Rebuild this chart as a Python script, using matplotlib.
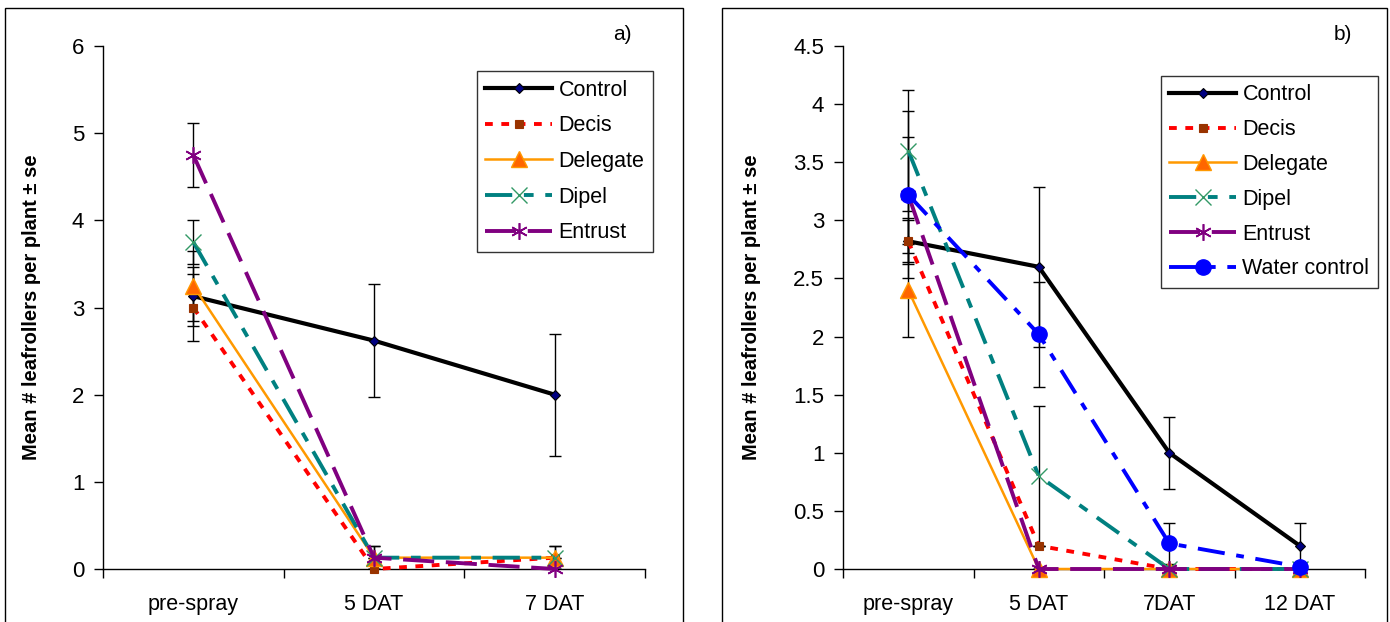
import matplotlib
matplotlib.use("Agg")
import matplotlib.pyplot as plt
from matplotlib.patches import Rectangle
import numpy as np

plt.rcParams['font.family'] = ['Liberation Sans', 'DejaVu Sans']

# ---------------- data ----------------
cats_a = ['pre-spray', '5 DAT', '7 DAT']
a_control = [3.13, 2.62, 2.0]
a_control_se = [0.34, 0.65, 0.70]
a_decis = [3.0, 0.0, 0.13]
a_decis_se = [0.38, 0.0, 0.0]
a_delegate = [3.25, 0.13, 0.13]
a_delegate_se = [0.40, 0.13, 0.13]
a_dipel = [3.75, 0.13, 0.13]
a_dipel_se = [0.25, 0.13, 0.13]
a_entrust = [4.75, 0.13, 0.0]
a_entrust_se = [0.37, 0.0, 0.0]

cats_b = ['pre-spray', '5 DAT', '7DAT', '12 DAT']
b_control = [2.82, 2.60, 1.0, 0.2]
b_control_se = [0.20, 0.69, 0.31, 0.2]
b_decis = [2.82, 0.2, 0.0, 0.0]
b_decis_se = [0.18, 0.0, 0.0, 0.0]
b_delegate = [2.4, 0.0, 0.0, 0.0]
b_delegate_se = [0.40, 0.0, 0.0, 0.0]
b_dipel = [3.6, 0.8, 0.0, 0.0]
b_dipel_se = [0.52, 0.60, 0.0, 0.0]
b_entrust = [3.22, 0.0, 0.0, 0.0]
b_entrust_se = [0.50, 0.0, 0.0, 0.0]
b_water = [3.22, 2.02, 0.22, 0.02]
b_water_se = [0.72, 0.45, 0.18, 0.0]

# ---------------- styles ----------------
styles = {
    'Control': dict(color='black', lw=3.0, ls='-', marker='D', ms=5,
                    mfc='#000080', mec='black', mew=0.8),
    'Decis': dict(color='#FF0000', lw=2.8, ls=(0, (2, 2.2)), marker='s', ms=6,
                  mfc='#993300', mec='#993300', mew=0.8),
    'Delegate': dict(color='#FF9900', lw=1.8, ls='-', marker='^', ms=12,
                     mfc='#FF6600', mec='#FF9900', mew=1.0),
    'Dipel': dict(color='#008080', lw=2.8, ls=(0, (7, 3, 2.5, 3)), marker='x', ms=11,
                  mfc='none', mec='#339966', mew=1.0),
    'Entrust': dict(color='#800080', lw=2.8, ls=(0, (8, 3)), marker=(6, 2, 0), ms=12,
                    mfc='none', mec='#800080', mew=1.2),
    'Water control': dict(color='#0000FF', lw=2.8, ls=(0, (7, 3, 2, 3)), marker='o', ms=11,
                          mfc='#0000FF', mec='#0000FF', mew=1.0),
}

W, H = 1390, 622
fig = plt.figure(figsize=(W / 100, H / 100), dpi=100)

# chart area frames
fig.add_artist(Rectangle((5 / W, -0.05), (683 - 5) / W, 1.05 - 8 / H, transform=fig.transFigure,
                         fill=False, ec='black', lw=1.0))
fig.add_artist(Rectangle((722 / W, -0.05), (1387 - 722) / W, 1.05 - 8 / H, transform=fig.transFigure,
                         fill=False, ec='black', lw=1.0))


def make_panel(rect, cats, series, ymax, ystep, label, legend_bbox, yfmt, ylabel_x, lspace):
    ax = fig.add_axes(rect)
    n = len(cats)
    x = np.arange(n)
    for name, vals, se in series:
        ax.errorbar(x, vals, yerr=se, fmt='none', ecolor='black', elinewidth=1.0,
                    capsize=4, capthick=1.0, zorder=2)
    for i, (name, vals, se) in enumerate(series):
        st = styles[name]
        ax.plot(x, vals, color=st['color'], lw=st['lw'], ls=st['ls'], marker=st['marker'],
                ms=st['ms'], mfc=st['mfc'], mec=st['mec'], mew=st['mew'], label=name,
                zorder=3 + i, clip_on=False)
    ax.set_xlim(-0.5, n - 0.5)
    ax.set_ylim(0, ymax)
    yt = np.arange(0, ymax + 1e-9, ystep)
    ax.set_yticks(yt)
    ax.set_yticklabels([yfmt(v) for v in yt])
    ax.set_xticks(np.arange(-0.5, n, 1.0))
    ax.set_xticklabels([])
    ax.set_xticks(x, minor=True)
    ax.set_xticklabels(cats, minor=True)
    ax.tick_params(axis='x', which='major', direction='out', length=6.5, width=1)
    ax.tick_params(axis='x', which='minor', length=0, pad=18, labelsize=15.5)
    ax.tick_params(axis='y', direction='out', length=6.5, width=1, labelsize=16, pad=7)
    for s in ['top', 'right']:
        ax.spines[s].set_visible(False)
    for s in ['left', 'bottom']:
        ax.spines[s].set_linewidth(1.0)
    ax.set_ylabel('Mean # leafrollers per plant ± se', fontsize=14.5, fontweight='bold')
    ax.yaxis.set_label_coords(ylabel_x, 0.5)
    leg = ax.legend(loc='upper right', bbox_to_anchor=legend_bbox, fontsize=15.5,
                    frameon=True, fancybox=False, edgecolor='black', handlelength=3.1,
                    borderpad=0.4, labelspacing=lspace, handletextpad=0.3, borderaxespad=0)
    leg.get_frame().set_linewidth(1.0)
    ax.text(0.976, 1.003, label, transform=ax.transAxes, ha='right', va='bottom', fontsize=15)
    return ax


fmt_a = lambda v: f'{int(round(v))}'
fmt_b = lambda v: f'{v:g}'

series_a = [('Control', a_control, a_control_se), ('Decis', a_decis, a_decis_se),
            ('Delegate', a_delegate, a_delegate_se), ('Dipel', a_dipel, a_dipel_se),
            ('Entrust', a_entrust, a_entrust_se)]
series_b = [('Control', b_control, b_control_se), ('Decis', b_decis, b_decis_se),
            ('Delegate', b_delegate, b_delegate_se), ('Dipel', b_dipel, b_dipel_se),
            ('Entrust', b_entrust, b_entrust_se), ('Water control', b_water, b_water_se)]

make_panel([103 / W, 1 - 569 / H, (645 - 103) / W, (569 - 46) / H], cats_a, series_a,
           6, 1, 'a)', (1.015, 0.952), fmt_a, (41 - 103) / 542, 0.68)
make_panel([843 / W, 1 - 569 / H, (1365 - 843) / W, (569 - 46) / H], cats_b, series_b,
           4.5, 0.5, 'b)', (1.025, 0.943), fmt_b, (761 - 843) / 522, 0.64)

fig.savefig('out.png', dpi=100)
